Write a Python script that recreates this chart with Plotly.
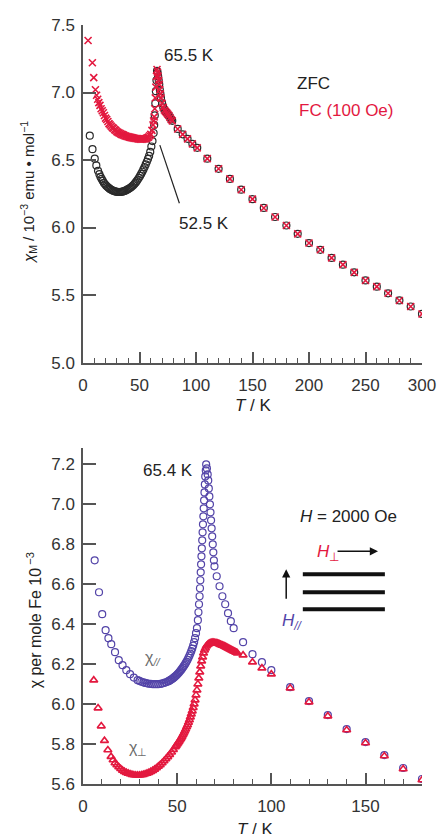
import plotly.graph_objects as go

# ---------------- data ----------------
# Top panel: chi_M / 1e-3 emu mol^-1 vs T / K
fc_T = [4.5, 8.3, 9.5, 11, 12, 13, 14, 15, 16, 17, 18, 19, 20, 21, 22, 23, 24, 25, 26, 27, 28, 29, 30,
        31, 32, 33, 34, 35, 36, 37, 38, 39, 40, 41, 42, 43, 44, 45, 46, 47, 48, 49, 50, 51, 52, 53, 54,
        55, 56, 57, 58, 59, 60, 61, 62, 62.5, 63, 63.5, 64, 64.5, 65, 65.5, 66, 66.5, 67, 67.5, 68, 68.5,
        69, 70, 71, 72, 73, 74, 75, 76, 77, 78, 79, 83.8, 88.2, 92.5, 96.8, 101.1,
        110, 120, 130, 140, 150, 160, 170, 180, 190, 200, 210, 220, 230, 240, 250, 260, 270, 280, 290, 300]
fc_chi = [7.385, 7.22, 7.11, 7.02, 6.98, 6.95, 6.925, 6.905, 6.88, 6.865, 6.85, 6.83, 6.81, 6.80, 6.785,
          6.77, 6.76, 6.75, 6.74, 6.735, 6.725, 6.72, 6.71, 6.705, 6.70, 6.695, 6.69, 6.688, 6.684, 6.68,
          6.677, 6.674, 6.672, 6.67, 6.668, 6.666, 6.664, 6.662, 6.66, 6.659, 6.658, 6.657, 6.656, 6.655,
          6.655, 6.655, 6.656, 6.657, 6.66, 6.665, 6.67, 6.68, 6.69, 6.72, 6.76, 6.79, 6.82, 6.88, 6.96,
          7.04, 7.12, 7.17, 7.15, 7.12, 7.09, 7.06, 7.02, 6.99, 6.96, 6.92, 6.89, 6.87, 6.86, 6.85, 6.84,
          6.83, 6.815, 6.80, 6.79, 6.73, 6.69, 6.657, 6.62, 6.59,
          6.51, 6.435, 6.36, 6.28, 6.21, 6.145, 6.078, 6.015, 5.953, 5.885, 5.835, 5.775, 5.725, 5.668,
          5.608, 5.562, 5.513, 5.46, 5.415, 5.36]

zfc_T = [6, 8.4, 10.4, 11.8, 13.3, 14.5, 15.5, 16.5, 17.5, 18.5, 19.5, 20.5, 21.5, 22.5, 23.5, 24.5,
         25.5, 26.5, 27.5, 28.5, 29.5, 30.5, 31.5, 32.5, 33.5, 34.5, 35.5, 36.5, 37.5, 38.5, 39.5, 40.5,
         41.5, 42.5, 43.5, 44.5, 45.5, 46.5, 47.5, 48.5, 49.5, 50.5, 51.5, 52.5, 53.5, 54.5, 55.5, 56.5,
         57.5, 58.5, 59.5, 60.5, 61.5, 62.5, 63, 63.5, 64, 64.5, 65, 65.5, 66, 66.5, 67, 67.5, 68, 68.5,
         69, 70, 71, 72, 73, 74, 75, 76, 77, 78, 79, 83.8, 88.2, 92.5, 96.8, 101.1,
         110, 120, 130, 140, 150, 160, 170, 180, 190, 200, 210, 220, 230, 240, 250, 260, 270, 280, 290, 300]
zfc_chi = [6.68, 6.58, 6.51, 6.46, 6.42, 6.395, 6.375, 6.36, 6.345, 6.33, 6.32, 6.31, 6.302, 6.295,
           6.288, 6.282, 6.277, 6.273, 6.27, 6.267, 6.265, 6.264, 6.263, 6.263, 6.264, 6.265, 6.267,
           6.27, 6.273, 6.277, 6.282, 6.287, 6.292, 6.298, 6.305, 6.313, 6.322, 6.332, 6.343, 6.355,
           6.368, 6.382, 6.397, 6.413, 6.43, 6.448, 6.467, 6.487, 6.508, 6.53, 6.56, 6.60, 6.64, 6.70,
           6.76, 6.83, 6.92, 7.01, 7.09, 7.16, 7.15, 7.12, 7.09, 7.06, 7.02, 6.99, 6.96, 6.92, 6.89,
           6.87, 6.86, 6.85, 6.84, 6.83, 6.815, 6.80, 6.79, 6.73, 6.69, 6.657, 6.62, 6.59,
           6.51, 6.435, 6.36, 6.28, 6.21, 6.145, 6.078, 6.015, 5.953, 5.885, 5.835, 5.775, 5.725, 5.668,
           5.608, 5.562, 5.513, 5.46, 5.415, 5.36]

# Bottom panel: chi per mole Fe / 1e-3 vs T / K
par_T = [6.2, 8.5, 10.2, 12, 13.5, 15, 17, 19, 21, 23, 25, 27, 29, 30, 31, 32, 33, 34, 35, 36, 37, 38,
         39, 40, 41, 42, 43, 44, 45, 45.5, 46, 46.5, 47, 47.5, 48, 48.5, 49, 49.5, 50, 50.5, 51, 51.5,
         52, 52.5, 53, 53.5, 54, 54.5, 55, 55.5, 56, 56.5, 57, 57.5, 58, 58.5, 59, 59.5, 60, 60.5, 61,
         61.3, 61.6, 61.9, 62.1, 62.3, 62.5, 62.7, 62.9, 63.1, 63.3, 63.5, 63.7, 63.9, 64.1, 64.3, 64.5,
         64.7, 64.9, 65.2, 65.4, 65.8, 66.2, 66.5, 66.8, 67.1, 67.4, 67.7, 68, 68.3, 68.6, 68.9, 69.2,
         69.5, 69.8, 71, 72.5, 74, 75.5, 77, 78.5, 80, 85, 90, 95, 100, 110, 120, 130, 140, 150, 160,
         170, 180]
par_chi = [6.72, 6.56, 6.45, 6.37, 6.33, 6.30, 6.26, 6.22, 6.195, 6.17, 6.15, 6.133, 6.12, 6.116, 6.112,
           6.109, 6.106, 6.104, 6.102, 6.101, 6.10, 6.10, 6.10, 6.10, 6.101, 6.103, 6.106, 6.109, 6.113,
           6.115, 6.118, 6.121, 6.124, 6.127, 6.131, 6.135, 6.139, 6.143, 6.148, 6.153, 6.158, 6.164,
           6.17, 6.176, 6.183, 6.19, 6.197, 6.205, 6.213, 6.222, 6.232, 6.242, 6.253, 6.265, 6.278,
           6.293, 6.31, 6.33, 6.355, 6.38, 6.42, 6.46, 6.50, 6.54, 6.58, 6.62, 6.66, 6.70, 6.74, 6.78,
           6.82, 6.86, 6.90, 6.94, 6.98, 7.02, 7.06, 7.10, 7.14, 7.17, 7.20, 7.18, 7.15, 7.12, 7.08,
           7.04, 7.00, 6.96, 6.92, 6.88, 6.84, 6.80, 6.76, 6.72, 6.69, 6.64, 6.59, 6.54, 6.50, 6.455,
           6.415, 6.38, 6.31, 6.25, 6.21, 6.17, 6.085, 6.015, 5.945, 5.875, 5.81, 5.745, 5.68, 5.625]

perp_T = [5.7, 8, 9.7, 11.4, 13.2, 14.9, 16, 17, 18, 19, 20, 21, 22, 23, 24, 25, 26, 27, 28, 29, 30,
          31, 32, 33, 34, 35, 36, 37, 38, 39, 40, 41, 42, 43, 44, 45, 46, 47, 48, 49, 49.5, 50, 50.5,
          51, 51.5, 52, 52.5, 53, 53.5, 54, 54.5, 55, 55.5, 56, 56.5, 57, 57.5, 58, 58.5, 59, 59.5, 60,
          60.5, 61, 61.5, 62, 62.5, 63, 63.5, 64, 64.5, 65, 65.5, 66, 66.5, 67, 67.5, 68, 68.5, 69,
          69.5, 70, 70.5, 71, 71.5, 72, 72.5, 73, 73.5, 74, 74.5, 75, 75.5, 76, 76.5, 77, 77.5, 78,
          78.5, 79, 79.5, 80, 80.5, 81, 81.5, 82, 85, 90, 95, 100, 110, 120, 130, 140, 150, 160, 170, 180]
perp_chi = [6.12, 5.98, 5.89, 5.817, 5.77, 5.737, 5.72, 5.705, 5.695, 5.685, 5.676, 5.668, 5.662, 5.657,
            5.653, 5.65, 5.647, 5.645, 5.644, 5.644, 5.644, 5.645, 5.647, 5.65, 5.653, 5.657, 5.662,
            5.667, 5.673, 5.68, 5.688, 5.696, 5.705, 5.715, 5.725, 5.736, 5.747, 5.759, 5.772, 5.785,
            5.792, 5.799, 5.806, 5.813, 5.82, 5.828, 5.836, 5.845, 5.854, 5.864, 5.874, 5.885, 5.896,
            5.908, 5.921, 5.935, 5.95, 5.965, 5.982, 6.00, 6.02, 6.045, 6.07, 6.10, 6.13, 6.16, 6.19,
            6.215, 6.235, 6.255, 6.27, 6.28, 6.29, 6.296, 6.30, 6.303, 6.305, 6.307, 6.308, 6.308, 6.308,
            6.307, 6.306, 6.305, 6.304, 6.302, 6.30, 6.298, 6.296, 6.294, 6.292, 6.29, 6.288, 6.285,
            6.283, 6.28, 6.278, 6.275, 6.273, 6.27, 6.268, 6.265, 6.263, 6.26, 6.258, 6.255, 6.245,
            6.21, 6.18, 6.15, 6.08, 6.01, 5.94, 5.87, 5.805, 5.74, 5.675, 5.62]

top_yticks = [5.0, 5.5, 6.0, 6.5, 7.0, 7.5]
bot_yticks = [5.6, 5.8, 6.0, 6.2, 6.4, 6.6, 6.8, 7.0, 7.2]
top_xticks = [0, 50, 100, 150, 200, 250, 300]
bot_xticks = [0, 50, 100, 150]

# ---------------- styling ----------------
RED = "#e3193f"
PURPLE = "#5344a8"
BLACK = "#2b2b2b"
GRAY = "#6a6a6a"
AX = "#555555"
FONT = "Liberation Sans, Arial, sans-serif"

W, H = 448, 834
ML, MR, MT, MB = 83, 18, 20, 50
PW, PH = W - ML - MR, H - MT - MB


def pxx(x):
    return (x - ML) / PW


def pxy(y):
    return (H - MB - y) / PH


fig = go.Figure()

fig.add_trace(go.Scatter(x=zfc_T, y=zfc_chi, mode="markers", name="ZFC",
                         marker=dict(symbol="circle-open", size=7, color=BLACK, line=dict(width=1.2)),
                         xaxis="x", yaxis="y"))
fig.add_trace(go.Scatter(x=fc_T, y=fc_chi, mode="markers", name="FC (100 Oe)",
                         marker=dict(symbol="x-thin", size=7, line=dict(width=1.6, color=RED)),
                         xaxis="x", yaxis="y"))
fig.add_trace(go.Scatter(x=par_T, y=par_chi, mode="markers", name="chi_par",
                         marker=dict(symbol="circle-open", size=7, color=PURPLE, line=dict(width=1.2)),
                         xaxis="x2", yaxis="y2"))
fig.add_trace(go.Scatter(x=perp_T, y=perp_chi, mode="markers", name="chi_perp",
                         marker=dict(symbol="triangle-up-open", size=7, color=RED, line=dict(width=1.6)),
                         xaxis="x2", yaxis="y2"))

axis_common = dict(showline=True, linecolor=AX, linewidth=1.5, showgrid=False, zeroline=False,
                   ticks="inside", tickcolor=AX, tickwidth=1.5, mirror=False,
                   tickfont=dict(family=FONT, size=17, color="#333333"))

fig.update_layout(
    width=W, height=H, margin=dict(l=ML, r=MR, t=MT, b=MB),
    paper_bgcolor="white", plot_bgcolor="white", showlegend=False,
    xaxis=dict(**axis_common, range=[0, 300], tickvals=top_xticks, ticklen=11,
               minor=dict(dtick=10, ticks="inside", ticklen=5, tickcolor=AX, tickwidth=1.2),
               ticklabelstandoff=6, anchor="y", domain=[0, 1]),
    yaxis=dict(**axis_common, range=[5.0, 7.5], tickvals=top_yticks, tickformat=".1f", ticklen=13,
               ticklabelstandoff=3, anchor="x", domain=[pxy(362), pxy(24)]),
    xaxis2=dict(**axis_common, range=[0, 180], tickvals=bot_xticks, ticklen=11,
                minor=dict(dtick=10, ticks="inside", ticklen=5, tickcolor=AX, tickwidth=1.2),
                ticklabelstandoff=6, anchor="y2", domain=[0, 1]),
    yaxis2=dict(**axis_common, range=[5.6, 7.28], tickvals=bot_yticks, tickformat=".1f", ticklen=13,
                ticklabelstandoff=3, anchor="x2", domain=[0, pxy(448)]),
)

ann = []


def txt(x, y, text, size=17, color="#222222", xanchor="center", angle=0):
    ann.append(dict(x=pxx(x), y=pxy(y), xref="paper", yref="paper", text=text, showarrow=False,
                    xanchor=xanchor, yanchor="middle", textangle=angle,
                    font=dict(family=FONT, size=size, color=color)))


txt(192, 55, "65.5 K")
txt(300, 83, "ZFC", xanchor="left")
txt(302, 110, "FC (100 Oe)", color=RED, xanchor="left")
txt(207, 223, "52.5 K")
txt(258, 405, "<i>T</i> / K")
txt(27, 192, "<i>χ</i><sub>M</sub> / 10<sup>−3</sup> emu • mol<sup>−1</sup>", size=15, angle=-90)

txt(170, 470, "65.4 K")
txt(355, 516, "<i>H</i> = 2000 Oe")
txt(320, 553, "<i>H</i><sub>⊥</sub>", color=RED, xanchor="left")
txt(297, 622, "<i>H</i><sub><i>//</i></sub>", color=PURPLE)
txt(155, 658, "χ<sub><i>//</i></sub>", size=16, color=GRAY)
txt(139, 748, "χ<sub>⊥</sub>", size=16, color=GRAY)
txt(260, 830, "<i>T</i> / K")
txt(33, 620, "χ per mole Fe 10<sup> −3</sup>", size=16, angle=-90)

# arrows of the field sketch
ann.append(dict(x=pxx(385), y=pxy(551), xref="paper", yref="paper", ax=-42, ay=0, text="",
                showarrow=True, arrowhead=2, arrowsize=1.1, arrowwidth=1.5, arrowcolor="#111111"))
ann.append(dict(x=pxx(291), y=pxy(569), xref="paper", yref="paper", ax=0, ay=31, text="",
                showarrow=True, arrowhead=2, arrowsize=1.1, arrowwidth=1.5, arrowcolor="#111111"))
fig.update_layout(annotations=ann)

shapes = []
for yy in (574, 592, 609):
    shapes.append(dict(type="line", xref="paper", yref="paper", x0=pxx(308), x1=pxx(392),
                       y0=pxy(yy), y1=pxy(yy), line=dict(color="#111111", width=4)))
# pointer line for 52.5 K
shapes.append(dict(type="line", xref="x", yref="y", x0=68, y0=6.61, x1=85.3, y1=6.18,
                   line=dict(color="#222222", width=1.2)))
fig.update_layout(shapes=shapes)

fig.write_html("out.html", config={"displayModeBar": False},
               post_script="document.body.style.margin='0px';")
